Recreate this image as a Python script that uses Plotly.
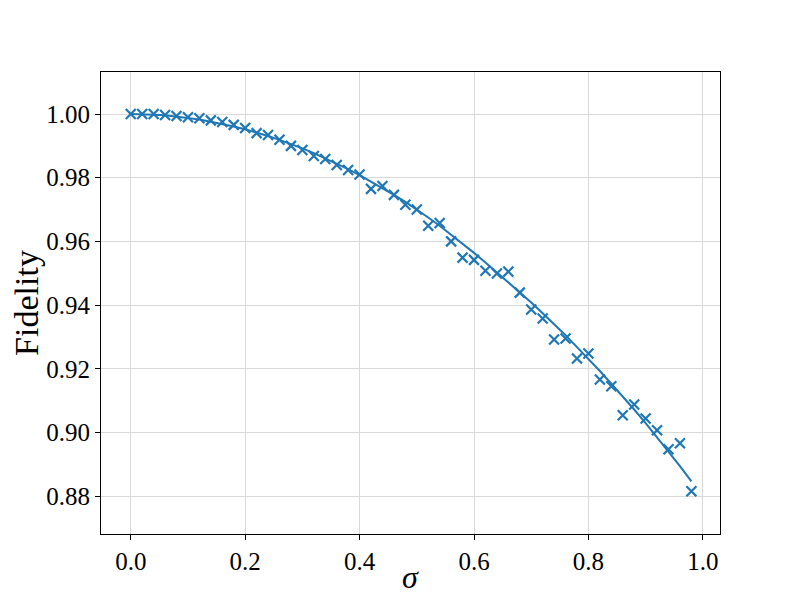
import plotly.graph_objects as go

# sampled sigma values
sigma = [0.00, 0.02, 0.04, 0.06, 0.08, 0.10, 0.12, 0.14, 0.16, 0.18,
         0.20, 0.22, 0.24, 0.26, 0.28, 0.30, 0.32, 0.34, 0.36, 0.38,
         0.40, 0.42, 0.44, 0.46, 0.48, 0.50, 0.52, 0.54, 0.56, 0.58,
         0.60, 0.62, 0.64, 0.66, 0.68, 0.70, 0.72, 0.74, 0.76, 0.78,
         0.80, 0.82, 0.84, 0.86, 0.88, 0.90, 0.92, 0.94, 0.96, 0.98]

# measured fidelity (markers)
fidelity = [1.0000, 1.0000, 1.0000, 0.9997, 0.9994, 0.9990, 0.9987, 0.9980, 0.9975, 0.9966,
            0.9956, 0.9940, 0.9934, 0.9919, 0.9900, 0.9887, 0.9868, 0.9859, 0.9840, 0.9824,
            0.9810, 0.9765, 0.9774, 0.9746, 0.9715, 0.9700, 0.9649, 0.9658, 0.9600, 0.9549,
            0.9542, 0.9508, 0.9499, 0.9505, 0.9439, 0.9386, 0.9358, 0.9292, 0.9295, 0.9232,
            0.9248, 0.9166, 0.9145, 0.9054, 0.9088, 0.9044, 0.9007, 0.8947, 0.8966, 0.8815]

# smooth curve (line)
fit = [1.0000, 0.99995, 0.9998, 0.9996, 0.9992, 0.9988, 0.9983, 0.9976, 0.9969, 0.9961,
       0.9952, 0.9942, 0.9931, 0.9919, 0.9906, 0.9892, 0.9877, 0.9861, 0.9844, 0.9827,
       0.9808, 0.9788, 0.9768, 0.9746, 0.9724, 0.9700, 0.9675, 0.9649, 0.9621, 0.9593,
       0.9564, 0.9534, 0.9503, 0.9472, 0.9440, 0.9408, 0.9374, 0.9340, 0.9305, 0.9268,
       0.9231, 0.9193, 0.9153, 0.9113, 0.9072, 0.9029, 0.8985, 0.8940, 0.8894, 0.8846]

blue = '#1f77b4'
font_family = 'Liberation Serif'

fig = go.Figure()

fig.add_trace(
    go.Scatter(
        x = sigma,
        y = fit,
        mode = 'lines',
        line = {'color': blue, 'width': 2},
        showlegend = False
    )
)

fig.add_trace(
    go.Scatter(
        x = sigma,
        y = fidelity,
        mode = 'markers',
        marker = {'symbol': 'x-thin-open', 'size': 10, 'color': blue,
                  'line': {'color': blue, 'width': 2.2}},
        showlegend = False
    )
)

axis_style = dict(
    showline = True,
    linecolor = 'black',
    linewidth = 1.2,
    mirror = True,
    ticks = 'outside',
    ticklen = 5,
    tickwidth = 1,
    tickcolor = 'black',
    showgrid = True,
    gridcolor = '#d9d9d9',
    gridwidth = 1,
    zeroline = False,
    tickfont = {'family': font_family, 'size': 25, 'color': 'black'},
)

fig.update_xaxes(
    range = [-0.052, 1.030],
    dtick = 0.2,
    tick0 = 0,
    tickformat = '.1f',
    **axis_style
)

fig.update_yaxes(
    range = [0.8681, 1.0132],
    dtick = 0.02,
    tick0 = 0.88,
    tickformat = '.2f',
    title = {'text': 'Fidelity', 'font': {'family': font_family, 'size': 34, 'color': 'black'},
             'standoff': 10},
    **axis_style
)

# x label as an annotation so it sits just inside the bottom edge
fig.add_annotation(
    text = '<i>σ</i>',
    x = 0.5, xref = 'paper',
    y = -0.092, yref = 'paper',
    yanchor = 'middle',
    showarrow = False,
    font = {'family': font_family, 'size': 32, 'color': 'black'},
)

# page body has an 8px margin, so shift the plot area to land where the reference has it
fig.update_layout(
    width = 800,
    height = 600,
    margin = {'l': 93, 'r': 88, 't': 64, 'b': 74, 'autoexpand': False},
    plot_bgcolor = 'white',
    paper_bgcolor = 'white',
)

fig.write_html('out.html')
